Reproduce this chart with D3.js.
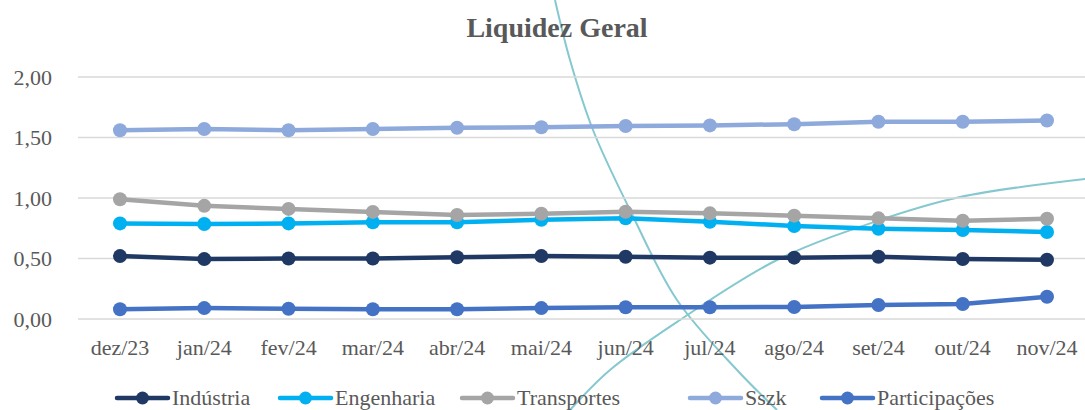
<!DOCTYPE html>
<html><head><meta charset="utf-8">
<script src="https://cdn.jsdelivr.net/npm/d3@7"></script>
<style>body{margin:0;background:#fff}svg{display:block}</style>
</head><body>
<svg id="c" width="1085" height="410"></svg>
<script>
const categories = ["dez/23","jan/24","fev/24","mar/24","abr/24","mai/24","jun/24","jul/24","ago/24","set/24","out/24","nov/24"];
const industria     = [0.52,0.495,0.50,0.50,0.51,0.52,0.515,0.507,0.507,0.515,0.496,0.49];
const engenharia    = [0.79,0.785,0.79,0.80,0.80,0.82,0.832,0.804,0.769,0.746,0.735,0.719];
const transportes   = [0.99,0.935,0.91,0.885,0.86,0.87,0.886,0.873,0.854,0.832,0.812,0.829];
const sszk          = [1.56,1.57,1.56,1.57,1.58,1.585,1.595,1.60,1.61,1.63,1.63,1.64];
const participacoes = [0.08,0.09,0.085,0.08,0.08,0.09,0.097,0.097,0.099,0.116,0.124,0.184];
const yTicks = [0,0.5,1,1.5,2];
const seriesNames = ["Indústria","Engenharia","Transportes","Sszk","Participações"];
const seriesColors = ["#1F3864","#00B0F0","#A5A5A5","#8EA9DB","#4472C4"];
const seriesValues = [industria,engenharia,transportes,sszk,participacoes];

const svg = d3.select("#c");
const W = 1085, H = 410;
const font = "'Liberation Serif', serif";
const x = d3.scalePoint().domain(categories).range([120,1047]);
const y = d3.scaleLinear().domain([0,2]).range([319,77]);

// decorative background arcs
const deco = svg.append("g").attr("fill","none").attr("stroke","#86C8CF").attr("stroke-width",2);
const line0 = d3.line().curve(d3.curveCatmullRom);
const arcA = [[555,0],[570,60],[593,130],[630,210],[677,300],[737,370],[777,410]];
const arcB = [[570,410],[610,370],[680,320],[777,260],[880,220],[960,197],[1085,179]];
deco.append("path").attr("d", line0(arcA));
deco.append("path").attr("d", line0(arcB));

// gridlines
svg.append("g").selectAll("line").data(yTicks).join("line")
  .attr("x1",78).attr("x2",W).attr("y1",d=>y(d)).attr("y2",d=>y(d))
  .attr("stroke","#D9D9D9").attr("stroke-width",1.5);

// y labels
const fmt = d => d3.format(".2f")(d).replace(".",",");
svg.append("g").selectAll("text").data(yTicks).join("text")
  .attr("x",52).attr("y",d=>y(d)).attr("dy","0.35em").attr("text-anchor","end")
  .attr("font-family",font).attr("font-size",22).attr("fill","#595959").text(fmt);

// x labels
svg.append("g").selectAll("text").data(categories).join("text")
  .attr("x",d=>x(d)).attr("y",355).attr("text-anchor","middle")
  .attr("font-family",font).attr("font-size",22).attr("fill","#595959").text(d=>d);

// series
const ln = d3.line().x((d,i)=>x(categories[i])).y(d=>y(d));
seriesValues.forEach((vals,k)=>{
  const g = svg.append("g");
  g.append("path").attr("d",ln(vals)).attr("fill","none")
    .attr("stroke",seriesColors[k]).attr("stroke-width",4.5).attr("stroke-linejoin","round");
  g.selectAll("circle").data(vals).join("circle")
    .attr("cx",(d,i)=>x(categories[i])).attr("cy",d=>y(d)).attr("r",7)
    .attr("fill",seriesColors[k]);
});

// title
svg.append("text").attr("x",557).attr("y",37).attr("text-anchor","middle")
  .attr("font-family",font).attr("font-size",28).attr("font-weight","bold")
  .attr("fill","#595959").text("Liquidez Geral");

// legend
const legX = [117,280,462,690,822];
const lg = svg.append("g");
seriesNames.forEach((n,k)=>{
  const g = lg.append("g").attr("transform",`translate(${legX[k]},398)`);
  g.append("line").attr("x1",0).attr("x2",51).attr("y1",0).attr("y2",0)
    .attr("stroke",seriesColors[k]).attr("stroke-width",4.5).attr("stroke-linecap","round");
  g.append("circle").attr("cx",25.5).attr("cy",0).attr("r",6.5).attr("fill",seriesColors[k]);
  g.append("text").attr("x",55).attr("y",0).attr("dy","0.33em")
    .attr("font-family",font).attr("font-size",22).attr("fill","#595959").text(n);
});
</script>
</body></html>
